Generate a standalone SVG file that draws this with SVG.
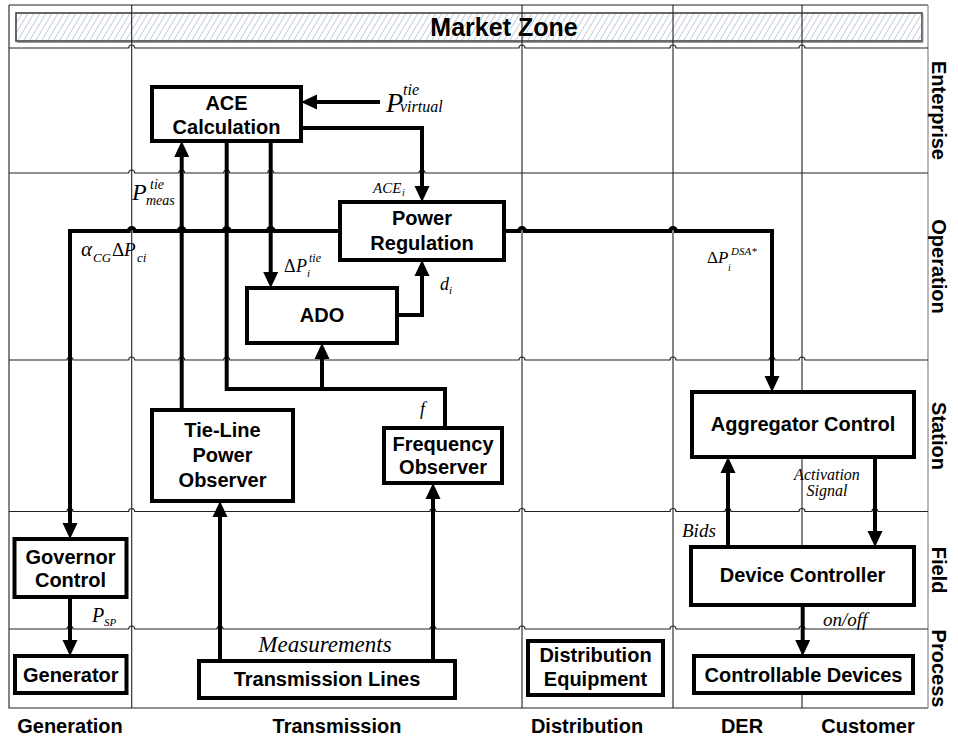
<svg xmlns="http://www.w3.org/2000/svg" width="958" height="740" viewBox="0 0 958 740">
  <defs>
    <pattern id="hatch" patternUnits="userSpaceOnUse" width="6" height="10">
      <rect width="6" height="10" fill="#ffffff"/>
      <path d="M0,10 L6,0 M-6,10 L0,0 M6,10 L12,0" stroke="#b4c2d6" stroke-width="0.9"/>
    </pattern>
    <marker id="arr" viewBox="0 -8 18 16" markerWidth="18" markerHeight="16" refX="1" refY="0" orient="auto" markerUnits="userSpaceOnUse">
      <path d="M0,-7.5 L16,0 L0,7.5 z" fill="#000"/>
    </marker>
    <style>
      .grid { fill: none; stroke: #222; stroke-width: 1.1; }
      .edge { fill: none; stroke: #888; stroke-width: 1.2; }
      .wire { fill: none; stroke: #000; stroke-width: 4; stroke-linejoin: miter; }
      .arrow { marker-end: url(#arr); }
      .box { fill: #fff; stroke: #000; stroke-width: 4; }
      .nt { font-family: "Liberation Sans", Arial, sans-serif; font-weight: bold; font-size: 20px; text-anchor: middle; fill: #000; }
      .lab { font-family: "Liberation Sans", Arial, sans-serif; font-weight: bold; font-size: 20px; text-anchor: middle; fill: #000; }
      .m { font-family: "Liberation Serif", "Times New Roman", serif; font-style: italic; fill: #000; }
      .up { font-family: "Liberation Serif", "Times New Roman", serif; fill: #000; }
    </style>
  </defs>

  <rect width="958" height="740" fill="#fff"/>

  <!-- market zone band -->
  <g id="market-zone">
    <rect x="16" y="13" width="906" height="28" fill="url(#hatch)" stroke="#444" stroke-width="1.6"/>
    <path d="M17,42.5 H923 V14" fill="none" stroke="#999" stroke-width="1"/>
    <text class="lab" x="504" y="36" style="font-size:25px">Market Zone</text>
  </g>

  <!-- grid: columns and layers -->
  <g id="grid">
    <path class="grid" d="M9,5 H928"/>
    <path class="grid" d="M9,5 V708 H928"/>
    <path class="edge" d="M928,5 V708"/>
    <path class="grid" d="M131.7,5 V708 M522,5 V708 M673,5 V708 M802,5 V708"/>
    <path class="grid" d="M9,48 H128.7 a3,3 0 0 1 6,0 H519 a3,3 0 0 1 6,0 H670 a3,3 0 0 1 6,0 H799 a3,3 0 0 1 6,0 H928"/>
    <path class="grid" d="M9,173 H128.7 a3,3 0 0 1 6,0 H178.7 a3,3 0 0 1 6,0 H223.7 a3,3 0 0 1 6,0 H267.7 a3,3 0 0 1 6,0 H419 a3,3 0 0 1 6,0 H928"/>
    <path class="grid" d="M9,360 H67 a3,3 0 0 1 6,0 H128.7 a3,3 0 0 1 6,0 H178.7 a3,3 0 0 1 6,0 H223.7 a3,3 0 0 1 6,0 H319 a3,3 0 0 1 6,0 H519 a3,3 0 0 1 6,0 H670 a3,3 0 0 1 6,0 H769 a3,3 0 0 1 6,0 H799 a3,3 0 0 1 6,0 H928"/>
    <path class="grid" d="M9,511.5 H67 a3,3 0 0 1 6,0 H128.7 a3,3 0 0 1 6,0 H217 a3,3 0 0 1 6,0 H430 a3,3 0 0 1 6,0 H519 a3,3 0 0 1 6,0 H670 a3,3 0 0 1 6,0 H725 a3,3 0 0 1 6,0 H799 a3,3 0 0 1 6,0 H872 a3,3 0 0 1 6,0 H928"/>
    <path class="grid" d="M9,629 H67 a3,3 0 0 1 6,0 H128.7 a3,3 0 0 1 6,0 H217 a3,3 0 0 1 6,0 H430 a3,3 0 0 1 6,0 H519 a3,3 0 0 1 6,0 H670 a3,3 0 0 1 6,0 H799 a3,3 0 0 1 6,0 H928"/>
  </g>

  <!-- layer and domain labels -->
  <g id="layer-labels">
    <text class="lab" transform="translate(932,110.5) rotate(90)">Enterprise</text>
    <text class="lab" transform="translate(932,266.5) rotate(90)">Operation</text>
    <text class="lab" transform="translate(932,436) rotate(90)">Station</text>
    <text class="lab" transform="translate(932,570) rotate(90)">Field</text>
    <text class="lab" transform="translate(932,668.5) rotate(90)">Process</text>
  </g>
  <g id="domain-labels">
    <text class="lab" x="70" y="733">Generation</text>
    <text class="lab" x="337" y="733">Transmission</text>
    <text class="lab" x="587" y="733">Distribution</text>
    <text class="lab" x="742" y="733">DER</text>
    <text class="lab" x="868" y="733">Customer</text>
  </g>

  <!-- signal connectors -->
  <g id="connectors">
    <path class="wire arrow" d="M380,102 H316"/>
    <path class="wire arrow" d="M301,128 H422 V187"/>
    <path class="wire arrow" d="M181.7,410 V156"/>
    <path class="wire arrow" d="M270.7,141 V273"/>
    <path class="wire" d="M226.7,141 V389 H445 V428"/>
    <path class="wire arrow" d="M322,389 V358"/>
    <path class="wire arrow" d="M397,315 H422 V275"/>
    <path class="wire arrow" d="M340,231 H273.7 a3,3 0 0 0 -6,0 H229.7 a3,3 0 0 0 -6,0 H184.7 a3,3 0 0 0 -6,0 H134.7 a3,3 0 0 0 -6,0 H70 V524"/>
    <path class="wire arrow" d="M504,231 H519 a3,3 0 0 1 6,0 H670 a3,3 0 0 1 6,0 H772 V377"/>
    <path class="wire arrow" d="M875,457 V532"/>
    <path class="wire arrow" d="M728,547 V472"/>
    <path class="wire arrow" d="M802.7,605 V641"/>
    <path class="wire arrow" d="M70,597 V641"/>
    <path class="wire arrow" d="M220,661 V516"/>
    <path class="wire arrow" d="M433,661 V498"/>
  </g>

  <!-- signal labels -->
  <g id="signal-labels">
    <text class="m" x="386" y="112" font-size="28">P</text>
    <text class="m" x="403" y="95" font-size="16">tie</text>
    <text class="m" x="400" y="112" font-size="16">virtual</text>

    <text class="m" x="132" y="200" font-size="24">P</text>
    <text class="m" x="150" y="189" font-size="14">tie</text>
    <text class="m" x="146" y="205" font-size="14">meas</text>

    <text class="m" x="81" y="256" font-size="21">α</text>
    <text class="m" x="93" y="262" font-size="13">CG</text>
    <text class="up" x="112" y="256" font-size="19">Δ</text>
    <text class="m" x="124" y="256" font-size="19">P</text>
    <text class="m" x="137" y="262" font-size="13">ci</text>

    <text class="m" x="373" y="193" font-size="15">ACE</text>
    <text class="m" x="402" y="196" font-size="10">i</text>

    <text class="up" x="284" y="272" font-size="18">Δ</text>
    <text class="m" x="296" y="272" font-size="18">P</text>
    <text class="m" x="307" y="277" font-size="11">i</text>
    <text class="m" x="309" y="262" font-size="12">tie</text>

    <text class="m" x="440" y="290" font-size="18">d</text>
    <text class="m" x="449" y="294" font-size="11">i</text>

    <text class="up" x="707" y="263" font-size="17">Δ</text>
    <text class="m" x="718" y="263" font-size="17">P</text>
    <text class="m" x="728" y="271" font-size="10">i</text>
    <text class="m" x="731" y="255" font-size="11">DSA*</text>

    <text class="m" x="420" y="415" font-size="18">f</text>

    <text class="m" x="827" y="480" font-size="16" text-anchor="middle">Activation</text>
    <text class="m" x="827" y="496" font-size="16" text-anchor="middle">Signal</text>

    <text class="m" x="682" y="537" font-size="19">Bids</text>
    <text class="m" x="823" y="626" font-size="19">on/off</text>

    <text class="m" x="92" y="622" font-size="20">P</text>
    <text class="m" x="104" y="626" font-size="11">SP</text>

    <text class="m" x="325" y="652" font-size="23" text-anchor="middle">Measurements</text>
  </g>

  <!-- blocks -->
  <g id="ace-calculation">
    <rect class="box" x="152" y="87" width="149" height="54"/>
    <text class="nt" x="226.5" y="110">ACE</text>
    <text class="nt" x="226.5" y="134">Calculation</text>
  </g>
  <g id="power-regulation">
    <rect class="box" x="340" y="202" width="164" height="58"/>
    <text class="nt" x="422" y="225">Power</text>
    <text class="nt" x="422" y="250">Regulation</text>
  </g>
  <g id="ado">
    <rect class="box" x="247" y="288" width="150" height="55"/>
    <text class="nt" x="322" y="322">ADO</text>
  </g>
  <g id="tie-line-observer">
    <rect class="box" x="152" y="410" width="141" height="91"/>
    <text class="nt" x="222.5" y="437">Tie-Line</text>
    <text class="nt" x="222.5" y="462">Power</text>
    <text class="nt" x="222.5" y="487">Observer</text>
  </g>
  <g id="frequency-observer">
    <rect class="box" x="384" y="428" width="118" height="55"/>
    <text class="nt" x="443" y="451">Frequency</text>
    <text class="nt" x="443" y="474">Observer</text>
  </g>
  <g id="aggregator-control">
    <rect class="box" x="692" y="392" width="222" height="65"/>
    <text class="nt" x="803" y="431">Aggregator Control</text>
  </g>
  <g id="device-controller">
    <rect class="box" x="691" y="547" width="223" height="58"/>
    <text class="nt" x="802.5" y="582">Device Controller</text>
  </g>
  <g id="governor-control">
    <rect class="box" x="14.5" y="539" width="112" height="58"/>
    <text class="nt" x="70.5" y="564">Governor</text>
    <text class="nt" x="70.5" y="587">Control</text>
  </g>
  <g id="generator">
    <rect class="box" x="15" y="656" width="111.5" height="37"/>
    <text class="nt" x="70.75" y="682">Generator</text>
  </g>
  <g id="transmission-lines">
    <rect class="box" x="199" y="661" width="256" height="37"/>
    <text class="nt" x="327" y="686">Transmission Lines</text>
  </g>
  <g id="distribution-equipment">
    <rect class="box" x="528" y="641" width="135" height="54"/>
    <text class="nt" x="595.5" y="662">Distribution</text>
    <text class="nt" x="595.5" y="686">Equipment</text>
  </g>
  <g id="controllable-devices">
    <rect class="box" x="694" y="656" width="219" height="37"/>
    <text class="nt" x="803.5" y="682">Controllable Devices</text>
  </g>
</svg>
